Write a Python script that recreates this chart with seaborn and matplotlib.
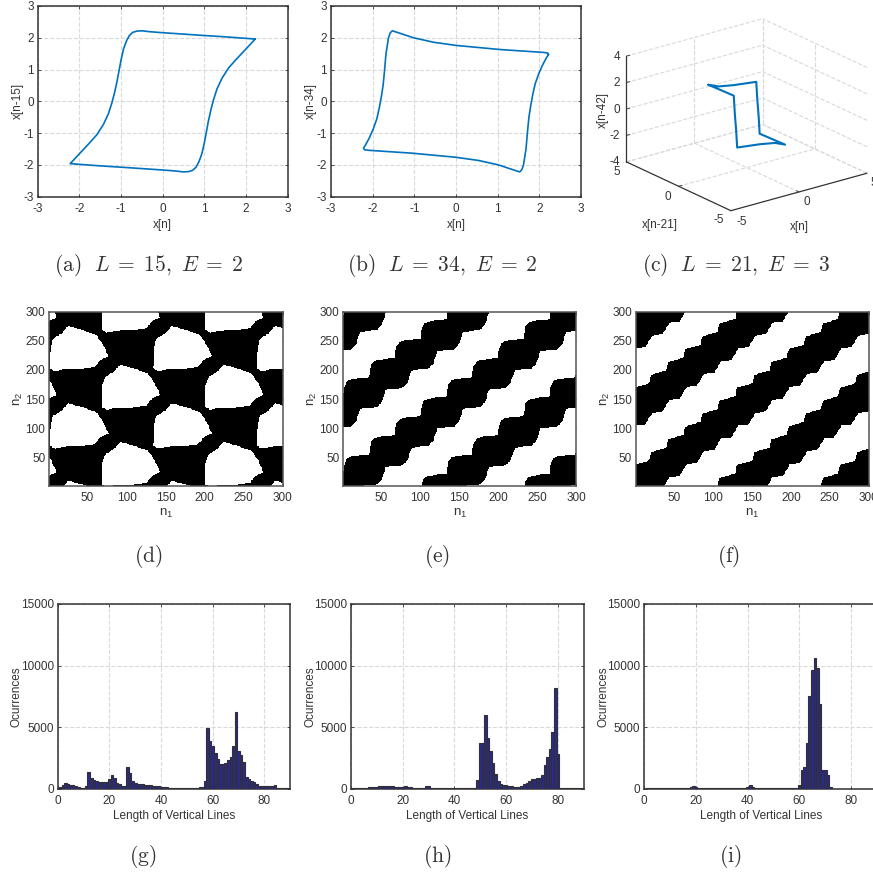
import numpy as np
import matplotlib
matplotlib.use('Agg')
import matplotlib.pyplot as plt
from matplotlib.path import Path
import seaborn as sns

W, H = 873, 875
BLUE = '#0072BD'
INK = '#333333'
GRID = '#d9d9d9'
FS = 8.5

# delay plots
a_x = [2.22, 1.5, 0.9, 0.0, -0.3, -0.5, -0.62, -0.72, -0.8, -0.87, -0.94, -1.0, -1.05, -1.1, -1.16, -1.22,
       -1.3, -1.42, -1.58, -1.75, -1.95, -2.22,
       -1.5, -0.9, 0.0, 0.3, 0.5, 0.62, 0.72, 0.8, 0.87, 0.94, 1.0, 1.05, 1.1, 1.16, 1.22,
       1.3, 1.42, 1.58, 1.75, 1.95, 2.22]
a_y = [1.96, 2.03, 2.08, 2.16, 2.19, 2.22, 2.21, 2.17, 2.07, 1.9, 1.65, 1.3, 0.95, 0.6, 0.25, -0.05,
       -0.38, -0.72, -1.05, -1.3, -1.58, -1.96,
       -2.03, -2.08, -2.16, -2.19, -2.22, -2.21, -2.17, -2.07, -1.9, -1.65, -1.3, -0.95, -0.6, -0.25, 0.05,
       0.38, 0.72, 1.05, 1.3, 1.58, 1.96]
b_x = [2.22, 2.2, 2.1, 1.06, 0.0, -0.54, -1.02, -1.34, -1.53, -1.58, -1.62, -1.65, -1.68, -1.70, -1.72, -1.75,
       -1.79, -1.84, -1.9, -1.98, -2.08, -2.17, -2.22,
       -2.2, -2.1, -1.06, 0.0, 0.54, 1.02, 1.34, 1.53, 1.58, 1.62, 1.65, 1.68, 1.70, 1.72, 1.75,
       1.79, 1.84, 1.9, 1.98, 2.08, 2.17, 2.22]
b_y = [1.47, 1.52, 1.54, 1.63, 1.76, 1.86, 2.0, 2.14, 2.22, 2.15, 2.0, 1.75, 1.5, 1.2, 0.9, 0.5,
       0.16, -0.2, -0.55, -0.85, -1.15, -1.37, -1.47,
       -1.52, -1.54, -1.63, -1.76, -1.86, -2.0, -2.14, -2.22, -2.15, -2.0, -1.75, -1.5, -1.2, -0.9, -0.5,
       -0.16, 0.2, 0.55, 0.85, 1.15, 1.37, 1.47]
c_x = [-1.0, -0.5, 0.0, 1.5, 1.6, 1.7, 1.8, 1.0, 0.5, 0.0, -1.5, -1.6, -1.7, -1.8, -1.0]
c_y = [2.365, 2.056, 1.27, 1.04, 1.073, 1.075, 1.108, -2.365, -2.056, -1.27, -1.04, -1.073, -1.075, -1.108, 2.365]
c_z = [1.674, 1.519, 1.765, 1.677, 0.32, -0.975, -2.357, -1.674, -1.519, -1.765, -1.677, -0.32, 0.975, 2.357, 1.674]

# recurrence plots: outline of one white cell (d) and one step of the band edges (e, f)
d_cell_x = [2.7, 6.1, 16.8, 25.4, 44.6, 61.7, 70.2, 76.6, 66.0, 59.5, 40.3, 18.9, 8.3, 1.9]
d_cell_y = [239.9, 254.0, 262.7, 275.3, 268.4, 259.9, 242.7, 223.9, 217.0, 205.6, 201.6, 201.0, 198.0, 202.7]
e_up_x = [34.4, 34.9, 36.4, 39.4, 44.4, 54.4, 64.4]
e_up_y = [55.6, 65.6, 75.6, 81.6, 84.6, 86.6, 87.6]
e_low_x = [88.9, 110.3, 116.7, 120.2]
e_low_y = [67.0, 69.9, 78.5, 93.0]
f_up_x = [40.4, 40.9, 42.4]
f_up_y = [67.0, 74.0, 81.0]
f_low_x = [66.2, 79.2]
f_low_y = [38.4, 40.4]

# vertical line histograms, lengths 1, 2, 3, ...
g_counts = [150, 300, 450, 400, 320, 280, 200, 150, 80, 50,
            250, 1350, 850, 700, 600, 550, 520, 550, 560, 750,
            1100, 900, 450, 350, 250, 200, 1780, 1300, 600, 450,
            400, 380, 360, 340, 320, 280, 250, 220, 180, 140,
            120, 100, 90, 90, 90, 90, 90, 90, 90, 90,
            90, 90, 90, 90, 100, 110, 650, 4950, 3850, 3500,
            2900, 2400, 2000, 2000, 2100, 2300, 2550, 3450, 6200, 3100,
            2750, 2200, 950, 800, 650, 550, 400, 250, 200, 180,
            180, 190, 200, 280, 30, 30, 30, 30, 30]
h_counts = [20, 40, 60, 70, 80, 90, 100, 130, 140, 130,
            180, 190, 200, 240, 240, 200, 150, 130, 120, 110,
            200, 170, 100, 60, 30, 20, 20, 50, 200, 220,
            30, 20, 20, 20, 20, 20, 20, 20, 20, 20,
            20, 20, 20, 20, 20, 20, 20, 40, 700, 3750,
            3750, 6000, 4150, 3050, 2100, 1200, 600, 350, 300, 260,
            220, 180, 150, 130, 100, 250, 350, 500, 600, 750,
            780, 850, 900, 1100, 1900, 2550, 3200, 4600, 8150, 2800,
            20, 20, 20, 20, 20, 20, 20, 20, 20]
i_counts = [50, 50, 50, 50, 50, 50, 50, 50, 20, 20,
            20, 20, 20, 20, 40, 60, 80, 120, 200, 130,
            80, 50, 40, 30, 30, 30, 30, 30, 30, 30,
            30, 30, 30, 30, 30, 30, 30, 30, 60, 130,
            320, 110, 70, 60, 50, 40, 30, 20, 20, 20,
            20, 20, 20, 20, 20, 20, 20, 20, 60, 300,
            1500, 1750, 3700, 7500, 9650, 10600, 9800, 6900, 1500, 1550,
            1100, 150, 10, 10, 10, 10, 10, 10, 10, 10,
            10, 10, 10, 10, 10, 10, 10, 10, 10]

captions = [(149, 265, r'$\mathrm{(a)}\ \ L\;=\;15,\ E\;=\;2$'), (442, 265, r'$\mathrm{(b)}\ \ L\;=\;34,\ E\;=\;2$'),
            (736, 265, r'$\mathrm{(c)}\ \ L\;=\;21,\ E\;=\;3$'), (148, 557, r'$\mathrm{(d)}$'),
            (437, 557, r'$\mathrm{(e)}$'), (729, 557, r'$\mathrm{(f)}$'),
            (143, 857, r'$\mathrm{(g)}$'), (437, 857, r'$\mathrm{(h)}$'), (730, 857, r'$\mathrm{(i)}$')]

sns.set_theme(style='white')
plt.rcParams['font.family'] = ['Liberation Sans']
plt.rcParams['mathtext.fontset'] = 'cm'
plt.rcParams['axes.unicode_minus'] = False
plt.rcParams['font.size'] = FS
plt.rcParams['text.color'] = INK

fig = plt.figure(figsize=(W / 100, H / 100), dpi=100)


def rect(left, top, right, bottom):
    return [left / W, 1 - bottom / H, (right - left) / W, (bottom - top) / H]


def px_text(x, y, s, **kw):
    kw.setdefault('ha', 'center')
    kw.setdefault('va', 'center')
    kw.setdefault('fontsize', FS)
    fig.text(x / W, 1 - y / H, s, color=INK, **kw)


def style_axes(ax, box, x_off, y_off, grid=True):
    for sp in ax.spines.values():
        sp.set_visible(True)
        sp.set_color(INK)
        sp.set_linewidth(1.1)
    ax.tick_params(direction='in', length=2, width=0.6, colors=INK, labelsize=FS,
                   top=True, right=True, bottom=True, left=True)
    ax.tick_params(axis='x', pad=4.3)
    ax.tick_params(axis='y', pad=2.8)
    ax.xaxis.set_label_coords(0.5, -x_off / (box[3] - box[1]))
    ax.yaxis.set_label_coords(-y_off / (box[2] - box[0]), 0.5)
    if grid:
        ax.grid(True, color=GRID, linestyle='--', linewidth=0.8)
        ax.set_axisbelow(True)


def delay_panel(box, xs, ys, ylabel):
    ax = fig.add_axes(rect(*box))
    sns.lineplot(x=xs, y=ys, sort=False, estimator=None, color=BLUE, linewidth=1.2, ax=ax)
    ax.set_xlim(-3, 3)
    ax.set_ylim(-3, 3)
    ax.set_xticks(range(-3, 4))
    ax.set_yticks(range(-3, 4))
    ax.set_xlabel('x[n]', fontsize=FS, color=INK)
    ax.set_ylabel(ylabel, fontsize=FS, color=INK)
    style_axes(ax, box, 22.3, 14.2)


def stepped_edge(xs, ys, period, start, stop):
    px, py = [], []
    for k in range(start, stop):
        px.extend(v + k * period for v in xs)
        py.extend(v + k * period for v in ys)
    return px, py


def band_matrix(up_x, up_y, low_x, low_y, period, spacing):
    coords = np.arange(0, 301) + 0.5
    xx, yy = np.meshgrid(coords, coords)
    pts = np.column_stack([xx.ravel(), yy.ravel()])
    n = int(600 / period)
    ux, uy = stepped_edge(up_x, up_y, period, -n, n)
    lx, ly = stepped_edge(low_x, low_y, period, -n, n)
    poly = np.column_stack([ux + lx[::-1], uy + ly[::-1]])
    white = np.ones(len(pts), dtype=bool)
    for m in range(-4, 5):
        white &= ~Path(poly + [m * spacing, 0]).contains_points(pts)
    return white.reshape(xx.shape).astype(float)


def cell_matrix(cx, cy):
    coords = np.arange(0, 301) + 0.5
    xx, yy = np.meshgrid(coords, coords)
    pts = np.column_stack([xx.ravel(), yy.ravel()])
    poly = np.column_stack([cx, cy])
    white = np.zeros(len(pts), dtype=bool)
    for j in range(-2, 6):
        for i in range(-3, 5):
            off = [i * 132.5 + j * 66.25, -j * 66.3]
            white |= Path(poly + off).contains_points(pts)
    return white.reshape(xx.shape).astype(float)


def recurrence_panel(box, mat):
    ax = fig.add_axes(rect(*box))
    sns.heatmap(mat, cmap=['black', 'white'], cbar=False, vmin=0, vmax=1,
                xticklabels=False, yticklabels=False, ax=ax)
    ax.set_xlim(1, 300)
    ax.set_ylim(1, 300)
    ticks = [50, 100, 150, 200, 250, 300]
    ax.set_xticks(ticks)
    ax.set_xticklabels(ticks)
    ax.set_yticks(ticks)
    ax.set_yticklabels(ticks, rotation=0)
    ax.set_xlabel(r'$\mathregular{n_1}$', fontsize=9.5, color=INK)
    ax.set_ylabel(r'$\mathregular{n_2}$', fontsize=9.5, color=INK)
    style_axes(ax, box, 21, 24, grid=False)
    for sp in ax.spines.values():
        sp.set_color('#555555')


def hist_panel(box, counts):
    ax = fig.add_axes(rect(*box))
    lengths = list(range(1, len(counts) + 1))
    sns.barplot(x=lengths, y=counts, native_scale=True, width=1, color='#2b2a8c', saturation=1,
                edgecolor='#303030', linewidth=0.8, ax=ax, zorder=3)
    ax.set_xlim(0, 90)
    ax.set_ylim(0, 15000)
    ax.set_xticks([0, 20, 40, 60, 80])
    ax.set_yticks([0, 5000, 10000, 15000])
    ax.set_xlabel('Length of Vertical Lines', fontsize=FS, color=INK)
    ax.set_ylabel('Ocurrences', fontsize=FS, color=INK)
    style_axes(ax, box, 21, 35)


# top row
delay_panel((37.7, 6, 287.7, 196.7), a_x, a_y, 'x[n-15]')
delay_panel((331, 6, 581, 196.7), b_x, b_y, 'x[n-34]')

ax3 = fig.add_axes(rect(613.2, -11.8, 873.2, 248.2), projection='3d', proj_type='ortho')
ax3.view_init(elev=21, azim=232.5)
ax3.set_box_aspect((1, 1, 0.66))
ax3.set_xlim(-5, 5, view_margin=0)
ax3.set_ylim(-5, 5, view_margin=0)
ax3.set_zlim(-4, 4, view_margin=0)
ax3.set_axis_off()
ax3.patch.set_alpha(0)
dash = dict(color=GRID, linestyle='--', linewidth=0.8)
for z in [-4, -2, 0, 2, 4]:
    ax3.plot3D([-5, 5], [5, 5], [z, z], **dash)
    ax3.plot3D([5, 5], [-5, 5], [z, z], **dash)
for v in [0, 5]:
    ax3.plot3D([v, v], [5, 5], [-4, 4], **dash)
    ax3.plot3D([5, 5], [v, v], [-4, 4], **dash)
    ax3.plot3D([v, v], [-5, 5], [-4, -4], **dash)
    ax3.plot3D([-5, 5], [v, v], [-4, -4], **dash)
solid = dict(color=INK, linewidth=0.9)
ax3.plot3D([-5, 5], [-5, -5], [-4, -4], **solid)
ax3.plot3D([-5, -5], [-5, 5], [-4, -4], **solid)
ax3.plot3D([-5, -5], [5, 5], [-4, 4], **solid)
tick = dict(color=INK, linewidth=0.6)
for z in [-2, 0, 2, 4]:
    ax3.plot3D([-5, -4.75], [5, 5], [z, z], **tick)
ax3.plot3D([0, 0], [-5, -4.75], [-4, -4], **tick)
ax3.plot3D([-5, -4.75], [0, 0], [-4, -4], **tick)
ax3.plot3D(c_x, c_y, c_z, color=BLUE, linewidth=1.5)
for z, py in zip(['4', '2', '0', '-2', '-4'], [57.3, 83.3, 109.7, 136, 162]):
    px_text(620, py, z, ha='right')
px_text(617, 172.3, '5')
px_text(668.3, 196.7, '0')
px_text(718.3, 220, '-5')
px_text(741.7, 221.7, '-5')
px_text(806.7, 202.3, '0')
px_text(873.3, 183.3, '5')
px_text(602.7, 110, 'x[n-42]', rotation=90)
px_text(660, 225, 'x[n-21]')
px_text(799.3, 227.3, 'x[n]')

# middle row
recurrence_panel((49.3, 311.7, 282.7, 486), cell_matrix(d_cell_x, d_cell_y))
recurrence_panel((343.3, 311.7, 576, 486), band_matrix(e_up_x, e_up_y, e_low_x, e_low_y, 33.1, 132.5))
recurrence_panel((636, 311.7, 868.7, 486), band_matrix(f_up_x, f_up_y, f_low_x, f_low_y, 22.08, 132.5))

# bottom row
hist_panel((57.7, 604, 290.3, 788.7), g_counts)
hist_panel((351, 604, 583.7, 788.7), h_counts)
hist_panel((644.3, 604, 877, 788.7), i_counts)

for x, y, s in captions:
    px_text(x, y, s, fontsize=15.5)

fig.savefig('out.png', dpi=100)
